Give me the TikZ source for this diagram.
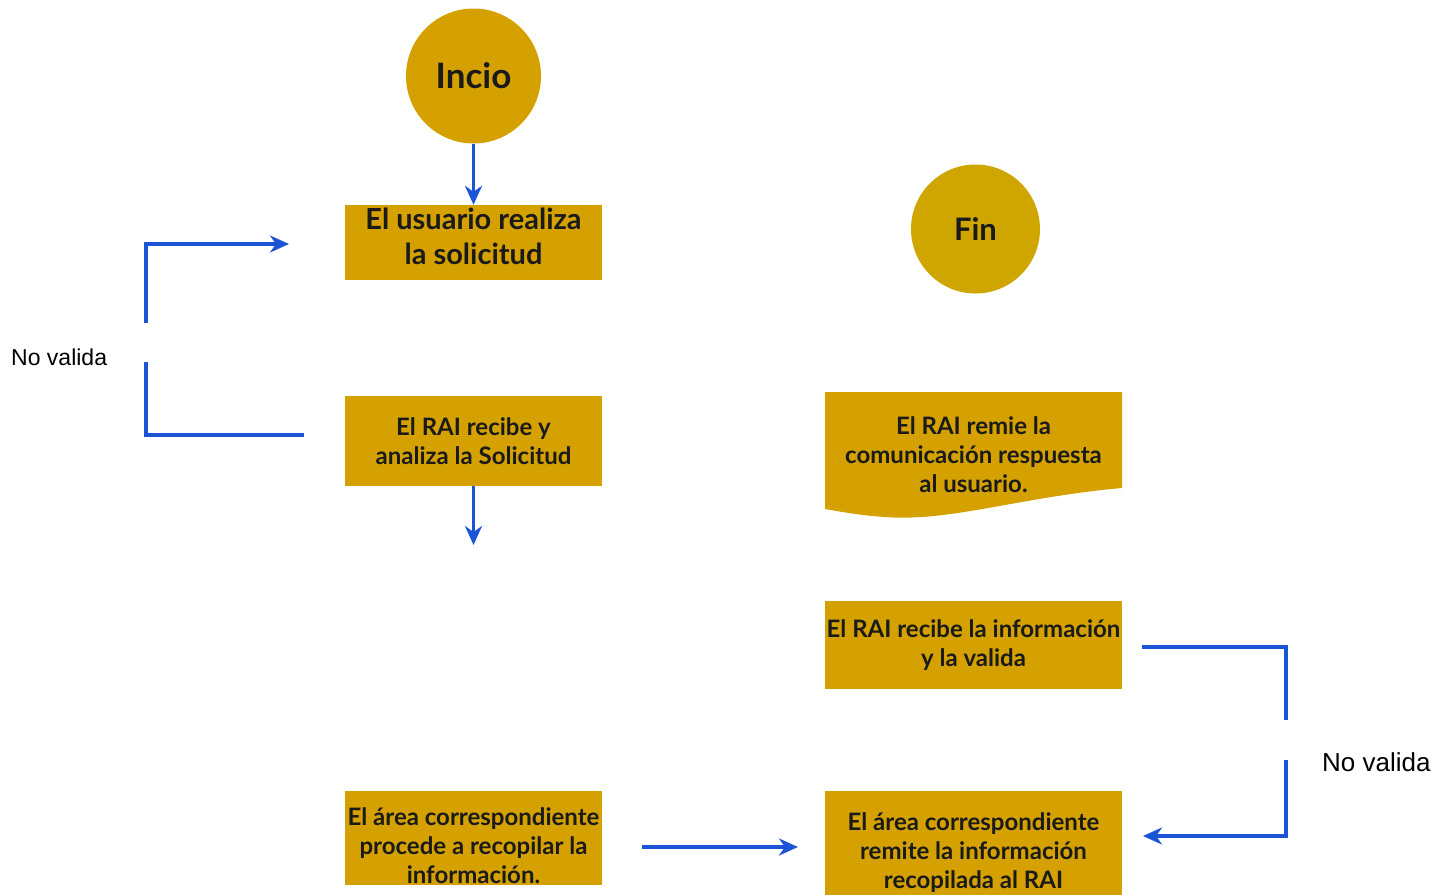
\documentclass[tikz,border=0pt]{standalone}
\usepackage{fontspec}
\setmainfont{Lato}
\setsansfont{Liberation Sans}
\usetikzlibrary{arrows.meta}
\definecolor{gold}{HTML}{D4A100}
\definecolor{goldfin}{HTML}{CFA600}
\definecolor{flowblue}{HTML}{1B55D6}
\definecolor{ink}{HTML}{1A1A1A}
\begin{document}
\begin{tikzpicture}[x=1pt,y=-1pt,
  boxnode/.style={fill=gold, inner sep=0pt},
  textnode/.style={inner sep=0pt, align=center, text=ink,
    font=\bfseries\fontsize{24}{29}\selectfont},
  circnode/.style={circle, fill=gold, inner sep=0pt, text=ink},
  flow/.style={draw=flowblue, line width=3.2pt, -{Stealth[length=19pt,width=17pt,inset=6pt]}},
  flowline/.style={draw=flowblue, line width=3.2pt},
  label/.style={font=\sffamily\fontsize{23}{27}\selectfont, text=black, inner sep=0pt}
]
\useasboundingbox (0,0) rectangle (1450,895);

% boxes
\node[circnode, minimum size=135pt, font=\bfseries\fontsize{35}{40}\selectfont] (inicio) at (473.5,76) {Incio};
\node[boxnode, minimum width=257pt, minimum height=75pt] (solic) at (473.5,242.5) {};
\node[boxnode, minimum width=257pt, minimum height=90pt] (recibe) at (473.5,441) {};
\node[boxnode, minimum width=257pt, minimum height=94pt] (recopila) at (473.5,838) {};
\node[boxnode, minimum width=297pt, minimum height=104pt] (remite) at (973.5,843) {};
\node[boxnode, minimum width=297pt, minimum height=88pt] (valida) at (973.5,645) {};
\node[circnode, fill=goldfin, minimum size=129pt, font=\bfseries\fontsize{31}{36}\selectfont] (fin) at (975.5,229) {Fin};

% document shape
\fill[gold] (825,392) -- (1122,392) -- (1122,488)
  .. controls (1020,497) and (950,522) .. (885,517)
  .. controls (855,515) and (838,511) .. (825,509) -- cycle;

% texts
\node[textnode, font=\bfseries\fontsize{29}{35}\selectfont] (solic-t) at (473.5,236.5) {El usuario realiza\\la solicitud};
\node[textnode] (recibe-t) at (473.5,441) {El RAI recibe y\\analiza la Solicitud};
\node[textnode] (recopila-t) at (473.5,846) {El área correspondiente\\procede a recopilar la\\información.};
\node[textnode] (remite-t) at (973.5,853) {El área correspondiente\\remite la información\\recopilada al RAI};
\node[textnode] (valida-t) at (973.5,645) {El RAI recibe la información\\y la valida};
\node[textnode] (respuesta) at (973.5,455) {El RAI remie la\\comunicación respuesta\\al usuario.};

% labels
\node[label, anchor=west] (nv1) at (11,357) {No valida};
\node[label, anchor=west, font=\sffamily\fontsize{26}{30}\selectfont] (nv2) at (1322,762) {No valida};

% coordinates for free ends
\coordinate (a1) at (473.5,545);
\coordinate (l1) at (304,435);
\coordinate (l2) at (146,362);
\coordinate (l3) at (146,323);
\coordinate (l4) at (289,244);
\coordinate (r1) at (1142,647);
\coordinate (r2) at (1286,720);
\coordinate (r3) at (1286,760);
\coordinate (r4) at (1143,836);
\coordinate (b1) at (642,847);
\coordinate (b2) at (798,847);

% connectors
\draw[flow] (inicio.south) -- (solic.north);
\draw[flow] (recibe.south) -- (a1);
\draw[flowline] (l1) -- (l1 -| l2) -- (l2);
\draw[flow] (l3) -- (l3 |- l4) -- (l4);
\draw[flowline] (r1) -- (r1 -| r2) -- (r2);
\draw[flow] (r3) -- (r3 |- r4) -- (r4);
\draw[flow] (b1) -- (b2);
\end{tikzpicture}
\end{document}
